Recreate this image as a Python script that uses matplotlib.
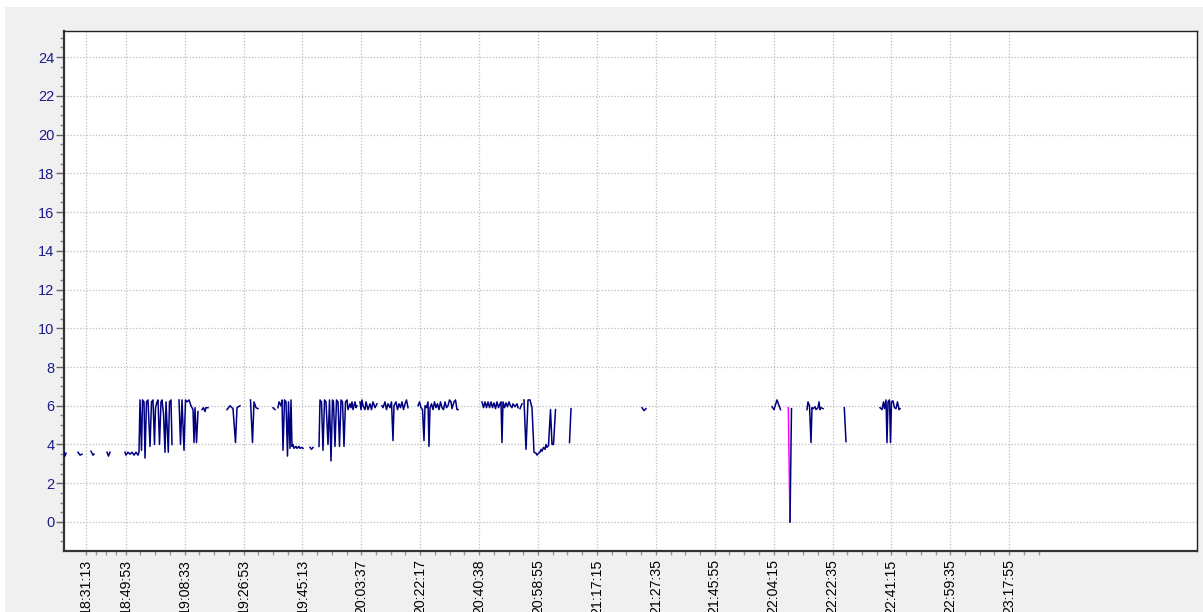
import numpy as np
import matplotlib
matplotlib.use("Agg")
import matplotlib.pyplot as plt
from matplotlib.patches import Rectangle

## sample index of each reading and the reading itself, None = no data
x_vals = [64, 65, 66, None,
          78, 80, 82, None,
          91, 93, 94, None,
          107, 108.5, 110, None,
          125, 126, 128, 130, 132, 134, 136, 138, 139, 140, 141.5, 142.5, 144, 145,
          146.5, 148, 150, 151.5, 153, 154.5, 155.5, 157, 158, 159.5, 161, 162, 163.5,
          165, 166, 168.3, 169.5, 171, 172, None,
          179, 180.5, 182, 184, 185.5, 187, 189, 191, 193, 194, 195, 196.5, 198, None,
          202, 203.5, 205, 206, 208, None,
          227, 230, 233, 235.5, 237, 240, None,
          250.5, 252.5, 254, 256, 258, None,
          273, 275, None,
          278, 279, 281, 282, 283, 284.5, 286, 287.5, 288.5, 290, 291, 292, 293, 294,
          296, 297, 299, 300, 302, 303, None,
          310, 311.5, 313, None,
          319, 320, 321.5, 323, 324.5, 326, 328, 329.5, 331, 332.5, 333.5, 335, 336.5,
          338, 339.5, 341, 342.5, 344, 345.5, 347, 348, 350, 351, 352, 353, 355, 356, 357,
          None,
          360, 361, 362, 363, 365, 366, 368, 370, 371.5, 373, 375, 377, None,
          382, 383, 385, 386.5, 388, 390, 391.5, 393, 394, 396, 397.5, 399, 400.5, 402,
          403.5, 405, 406.5, 408, None,
          418, 419.5, 421, 422.5, 424, 425, 426.5, 428, 429, 430, 431.5, 433, 434.5, 436,
          437.5, 439, 440.5, 442, 443.5, 445, 446.5, 448, 449.5, 451, 452, 454, 455.5,
          457, 458, None,
          482, 483.5, 485, 486.5, 488, 489.5, 491, 492.5, 494, 495.5, 497, 498.5, 500,
          501, 502, 503, 504.5, 506, 507.5, 509, 510.5, 512, 513, 515, 517, 518, None,
          520, 522, None,
          524, 526, 528, 530, 532, 534, 536, 537, 538.5, 540, 541, 542, 543.5, 545, 546,
          547, 548.5, 550.5, 552, 553.5, 555.5, None,
          569.5, 571, None,
          642, 644, 646, None,
          772, 774, 777, 780.5, None,
          791.5, 790, None,
          807, 808, 809.5, 811, 812, 813, 815, 816, 818, 819, 820, 821, 823, None,
          844.3, 846, None,
          880, 882, 883.5, 884.5, 886, 887, 888, 889.5, 890.5, 891.5, 893, 894.5, 896,
          897.5, 899, 900]
y_vals = [3.6, 3.4, 3.55, None,
          3.6, 3.45, 3.5, None,
          3.65, 3.45, 3.5, None,
          3.6, 3.4, 3.6, None,
          3.6, 3.45, 3.6, 3.5, 3.6, 3.45, 3.6, 3.45, 3.6, 6.3, 3.7, 6.3, 6.2, 3.3,
          6.2, 6.3, 3.9, 6.2, 6.3, 4.0, 5.9, 6.2, 6.3, 4.0, 6.2, 6.3, 5.6,
          3.6, 6.2, 3.6, 6.2, 6.3, 4.0, None,
          6.3, 4.0, 6.3, 3.7, 6.3, 6.2, 6.3, 6.0, 5.8, 4.1, 5.9, 4.1, 5.7, None,
          5.8, 5.9, 5.7, 5.9, 5.9, None,
          5.8, 6.0, 5.85, 4.1, 5.9, 6.0, None,
          6.3, 4.1, 6.2, 5.9, 5.85, None,
          5.9, 5.8, None,
          5.9, 6.2, 6.0, 6.3, 3.7, 6.3, 6.2, 3.4, 6.2, 3.8, 6.3, 3.9, 4.0, 3.8,
          3.9, 3.8, 3.9, 3.8, 3.85, 3.8, None,
          3.85, 3.75, 3.85, None,
          3.9, 6.3, 6.2, 3.7, 6.3, 6.2, 4.0, 6.3, 3.15, 6.3, 6.2, 3.9, 6.3,
          6.2, 3.9, 6.3, 6.2, 3.9, 6.2, 6.3, 5.8, 6.1, 5.9, 6.2, 5.8, 6.2, 5.9, 6.0,
          None,
          6.2, 5.8, 6.3, 6.0, 5.8, 6.2, 5.8, 6.1, 5.8, 6.2, 5.9, 6.1, None,
          6.0, 5.9, 6.2, 5.8, 6.1, 5.9, 6.2, 4.2, 6.0, 6.2, 5.8, 6.1, 5.9, 6.2,
          5.8, 6.1, 6.3, 5.9, None,
          6.0, 6.2, 5.9, 5.8, 4.2, 6.0, 5.9, 6.2, 3.9, 5.9, 6.1, 5.8, 6.2, 5.9,
          6.1, 5.8, 6.2, 5.9, 5.8, 6.2, 5.9, 6.0, 6.3, 6.2, 5.85, 6.2, 6.3,
          5.8, 5.8, None,
          6.2, 5.9, 6.2, 5.9, 6.2, 5.9, 6.2, 5.9, 6.15, 5.85, 6.2, 5.9, 6.1,
          6.2, 4.1, 6.2, 5.9, 6.15, 5.95, 6.2, 6.0, 5.9, 6.1, 5.95, 6.1, 5.9, None,
          5.85, 6.1, None,
          6.3, 3.75, 6.3, 6.3, 5.9, 3.6, 3.55, 3.45, 3.55, 3.6, 3.75, 3.65, 3.85, 3.75, 4.0,
          3.85, 3.95, 5.8, 4.0, 4.0, 5.8, None,
          4.1, 5.85, None,
          5.9, 5.75, 5.85, None,
          5.95, 5.8, 6.3, 5.8, None,
          5.85, 0.0, None,
          5.8, 6.2, 6.0, 4.1, 5.9, 5.85, 5.95, 5.8, 5.9, 6.2, 5.8, 5.9, 5.85, None,
          5.9, 4.15, None,
          5.9, 5.8, 6.2, 5.85, 6.3, 4.1, 6.2, 6.3, 4.1, 6.2, 6.25, 5.9, 5.85,
          6.2, 5.8, 5.85]

## second series (magenta), only one drop
x_alarm = [788.3, 790]
y_alarm = [5.9, 0.0]

## x tick positions (sample index) and their clock labels
x_ticks = [86, 125.7, 184.6, 243.5, 302.4, 361.3, 420.2, 479.1, 538, 596.9,
           655.8, 714.7, 773.6, 832.5, 891.4, 950.3, 1009.2]
x_labels = ["18:31:13", "18:49:53", "19:08:33", "19:26:53", "19:45:13", "20:03:37",
            "20:22:17", "20:40:38", "20:58:55", "21:17:15", "21:27:35", "21:45:55",
            "22:04:15", "22:22:35", "22:41:15", "22:59:35", "23:17:55"]

x = np.array(x_vals, dtype=float)
y = np.array(y_vals, dtype=float)

plt.rcParams["font.family"] = ["Liberation Sans", "DejaVu Sans"]

fig = plt.figure(figsize=(12.03, 6.12), dpi=100, facecolor="white")
fig.patches.append(Rectangle((5 / 1203, 0), 1, 1 - 7 / 612, transform=fig.transFigure,
                             facecolor="#f0f0f0", edgecolor="none", zorder=-10))
ax = fig.add_axes([64 / 1203, 1 - 551 / 612, (1197 - 64) / 1203, (551 - 31) / 612])

ax.plot(x_alarm, y_alarm, color="#ff00ff", linewidth=1.1, zorder=3)
ax.plot(x, y, color="#000080", linewidth=1.1, zorder=4)

ax.set_xlim(64, 1197)
ax.set_ylim(-1.5, 25.35)

ax.set_yticks(np.arange(0, 25, 2))
ax.set_yticks(np.arange(-1, 25.5, 0.5), minor=True)
ax.set_xticks(x_ticks)
ax.set_xticklabels(x_labels, rotation=90, va="top", ha="center")
## four subdivisions between clock ticks, two more after the last one
minor_x = []
for a, b in zip(x_ticks[:-1], x_ticks[1:]):
    minor_x += list(np.linspace(a, b, 5)[1:-1])
step = (x_ticks[-1] - x_ticks[-2]) / 4
minor_x += [x_ticks[-1] + step, x_ticks[-1] + 2 * step]
ax.set_xticks(minor_x, minor=True)

ax.tick_params(axis="y", which="major", length=6, width=1, color="#666666",
               labelsize=10.5, labelcolor="#1c1c8c", pad=1)
ax.tick_params(axis="y", which="minor", length=3, width=1, color="#888888")
ax.tick_params(axis="x", which="major", length=3, width=1, color="#888888",
               labelsize=10.2, labelcolor="black", pad=3)
ax.tick_params(axis="x", which="minor", length=3, width=1, color="#999999")

ax.grid(True, which="major", color="#bdbdbd", linestyle=(0, (1, 1.5)), linewidth=0.9)

for side in ["top", "right"]:
    ax.spines[side].set_color("#222222")
    ax.spines[side].set_linewidth(1.0)
for side in ["left", "bottom"]:
    ax.spines[side].set_color("#333333")
    ax.spines[side].set_linewidth(1.6)

fig.savefig("out.png", dpi=100, facecolor=fig.get_facecolor())
plt.close("all")
